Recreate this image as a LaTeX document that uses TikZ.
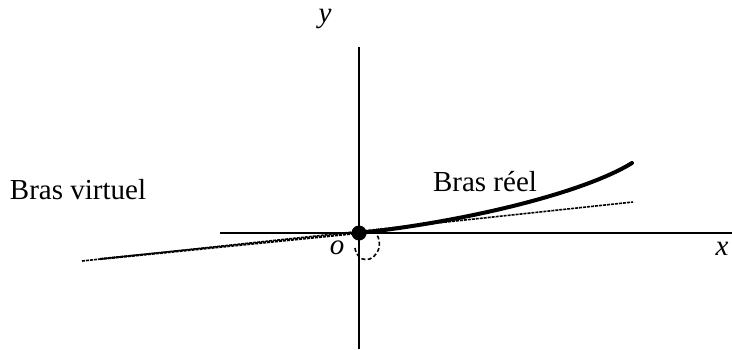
\documentclass[tikz,border=0pt]{standalone}
\usepackage{fontspec}
\setmainfont{Liberation Serif}
\usetikzlibrary{positioning,calc}
\tikzset{
  axis/.style   ={draw=black, line width=0.8pt},
  tang/.style   ={draw=black, line width=0.8pt, dash pattern=on 1.5pt off 0.5pt},
  arm/.style    ={draw=black, line width=2pt, line cap=round},
  turn/.style   ={draw=black, line width=0.8pt, dash pattern=on 2pt off 1.2pt},
  pivot/.style  ={circle, fill=black, inner sep=0pt, minimum size=7.5pt},
  lbl/.style    ={font=\fontsize{14.5}{17}\selectfont, inner sep=0pt},
  axlbl/.style  ={lbl, font=\fontsize{14.5}{17}\selectfont\itshape},
}
\begin{document}
\begin{tikzpicture}[x=0.5pt, y=-0.5pt]
\useasboundingbox (0,0) rectangle (732,349);
% axes
\coordinate (O) at (359,233);
\coordinate (xl) at (220,233);
\coordinate (xr) at (732,233);
\coordinate (yt) at (359,47);
\coordinate (yb) at (359,349);
\draw[axis] (xl) -- (xr);
\draw[axis] (yt) -- (yb);
% tangent and arm
\coordinate (t1) at (82,261);
\coordinate (t2) at (633,202);
\coordinate (tip) at (632,163);
\draw[tang] (t1) -- (t2);
\draw[tang, line width=1.1pt] (100,259) -- (O);
\draw[arm] (O) .. controls (470,221) and (585,192) .. (tip);
\node[pivot] (p) at (O) {};
% rotation mark
\draw[turn] (355,248) .. controls (357,263) and (374,264) .. (379,248)
  .. controls (380,242) and (379,237) .. (376,234);
% labels
\node[axlbl] (ylab) at (325,19) {y};
\node[axlbl] (xlab) at (722,249) {x};
\node[axlbl] (olab) at (337,248) {o};
\node[lbl] (virt) at (78,190) {Bras virtuel};
\node[lbl] (reel) at (485,182) {Bras réel};
\end{tikzpicture}
\end{document}
